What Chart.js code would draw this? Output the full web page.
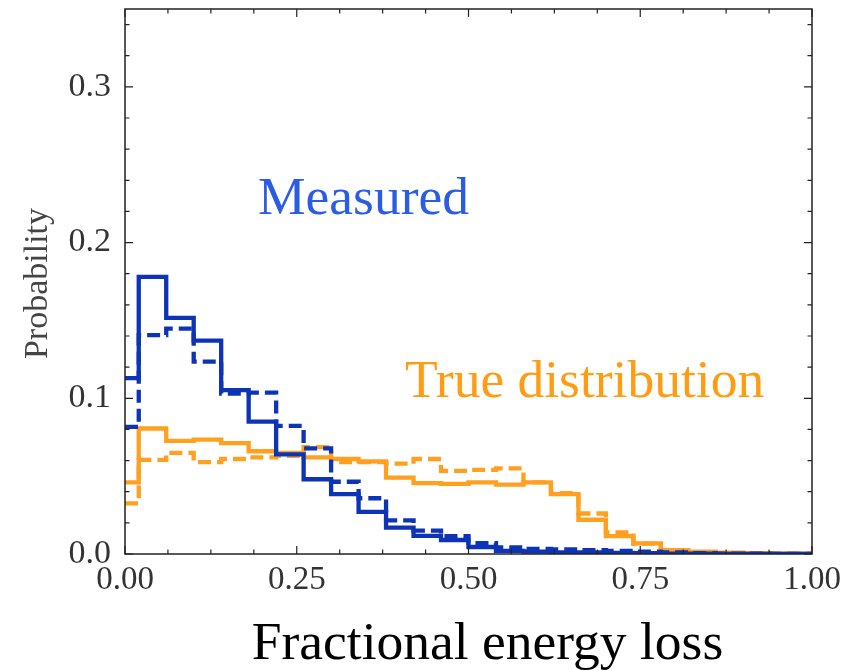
<!DOCTYPE html>
<html>
<head>
<meta charset="utf-8">
<script src="https://cdn.jsdelivr.net/npm/chart.js@4.4.1/dist/chart.umd.min.js"></script>
<style>
html,body{margin:0;padding:0;background:#fff;}
#wrap{width:848px;height:671px;position:relative;}
</style>
</head>
<body>
<div id="wrap"><canvas id="c" width="848" height="671"></canvas></div>
<script>
// Bin left edges (bins of width 0.04 centred on multiples of 0.04, clipped to [0,1])
const binEdges = [0, 0.02, 0.06, 0.10, 0.14, 0.18, 0.22, 0.26, 0.30, 0.34, 0.38, 0.42, 0.46, 0.50,
                  0.54, 0.58, 0.62, 0.66, 0.70, 0.74, 0.78, 0.82, 0.86, 0.90, 0.94, 0.98, 1.00];

const measuredSolid  = [0.113, 0.178, 0.1517, 0.137, 0.1053, 0.085, 0.064, 0.048, 0.0385, 0.027, 0.017, 0.0117, 0.009,
                        0.0045, 0.002, 0.0015, 0.001, 0.001, 0.0007, 0.0005, 0.0003, 0.0002, 0.0001, 0.0001, 0, 0];
const measuredDashed = [0.0816, 0.1406, 0.1447, 0.1235, 0.103, 0.1036, 0.0823, 0.0678, 0.0464, 0.0358, 0.0216, 0.015, 0.0115,
                        0.007, 0.0043, 0.0032, 0.003, 0.0025, 0.002, 0.0015, 0.001, 0.0005, 0.0003, 0.0002, 0.0001, 0.0001];
const trueSolid      = [0.046, 0.0806, 0.0726, 0.0735, 0.0712, 0.066, 0.065, 0.062, 0.061, 0.0595, 0.049, 0.0455, 0.045,
                        0.046, 0.0445, 0.046, 0.0385, 0.022, 0.0115, 0.0068, 0.0025, 0.0015, 0.0008, 0.0005, 0.0003, 0.0002];
const trueDashed     = [0.0325, 0.0605, 0.065, 0.059, 0.061, 0.062, 0.063, 0.0686, 0.059, 0.059, 0.058, 0.061, 0.0534,
                        0.054, 0.055, 0.046, 0.039, 0.026, 0.0138, 0.0066, 0.0025, 0.0012, 0.0006, 0.0004, 0.0002, 0.0001];

const xTicks = [0, 0.25, 0.5, 0.75, 1.0];
const yTicks = [0, 0.1, 0.2, 0.3];
const xMinorStep = 0.0625;
const yMinorStep = 0.02;

const xTitle = 'Fractional energy loss';
const yTitle = 'Probability';

// text labels placed in data coordinates (left edge, baseline)
const annotations = [
  {text: 'Measured', x: 0.1936, y: 0.2184, color: '#2a5de3'},
  {text: 'True distribution', x: 0.4076, y: 0.1008, color: '#ff9c12'}
];

const BLUE = '#0d33b6';
const ORANGE = '#ffa020';

function toPoints(vals) {
  return binEdges.map((x, i) => ({x: x, y: vals[Math.min(i, vals.length - 1)]}));
}

function ds(vals, color, dashed) {
  return {
    data: toPoints(vals),
    borderColor: color,
    borderWidth: 4.3,
    borderDash: dashed ? [13, 6] : [],
    stepped: 'before',
    pointRadius: 0,
    fill: false,
    borderCapStyle: 'butt',
    borderJoinStyle: 'miter'
  };
}

const framePlugin = {
  id: 'frame',
  afterDraw(chart) {
    const {ctx, chartArea: a, scales} = chart;
    const xs = scales.x, ys = scales.y;
    ctx.save();
    ctx.strokeStyle = '#222';
    ctx.lineWidth = 1.5;
    ctx.strokeRect(a.left, a.top, a.right - a.left, a.bottom - a.top);
    ctx.lineWidth = 1.2;
    ctx.beginPath();
    for (let v = 0; v <= 1.0001; v += xMinorStep) {
      const px = xs.getPixelForValue(v);
      const isMajor = xTicks.some(t => Math.abs(t - v) < 1e-6);
      const len = isMajor ? 8 : 4.5;
      ctx.moveTo(px, a.bottom); ctx.lineTo(px, a.bottom - len);
      ctx.moveTo(px, a.top); ctx.lineTo(px, a.top + len);
    }
    for (let v = 0; v <= 0.35001; v += yMinorStep) {
      const py = ys.getPixelForValue(v);
      const isMajor = yTicks.some(t => Math.abs(t - v) < 1e-6);
      const len = isMajor ? 8 : 4.5;
      ctx.moveTo(a.left, py); ctx.lineTo(a.left + len, py);
      ctx.moveTo(a.right, py); ctx.lineTo(a.right - len, py);
    }
    ctx.stroke();
    // annotations
    ctx.textAlign = 'left';
    ctx.textBaseline = 'alphabetic';
    ctx.font = '53.5px "Liberation Serif"';
    annotations.forEach(an => {
      ctx.fillStyle = an.color;
      ctx.fillText(an.text, xs.getPixelForValue(an.x), ys.getPixelForValue(an.y));
    });
    // axis titles
    ctx.fillStyle = '#000';
    ctx.textAlign = 'center';
    ctx.font = '53.5px "Liberation Serif"';
    ctx.fillText(xTitle, (a.left + a.right) / 2 + 19, 659);
    ctx.save();
    ctx.translate(47, (a.top + a.bottom) / 2 + 2);
    ctx.rotate(-Math.PI / 2);
    ctx.fillStyle = '#444';
    ctx.font = '34px "Liberation Serif"';
    ctx.fillText(yTitle, 0, 0);
    ctx.restore();
    ctx.restore();
  }
};

new Chart(document.getElementById('c'), {
  type: 'line',
  data: {
    datasets: [
      ds(measuredDashed, BLUE, true),
      ds(measuredSolid, BLUE, false),
      ds(trueDashed, ORANGE, true),
      ds(trueSolid, ORANGE, false)
    ]
  },
  options: {
    responsive: false,
    animation: false,
    layout: {padding: {top: 9, right: 36, left: 0, bottom: 0}},
    plugins: {legend: {display: false}, tooltip: {enabled: false}},
    scales: {
      x: {
        type: 'linear', min: 0, max: 1,
        grid: {display: false, drawTicks: false},
        border: {display: false},
        afterBuildTicks(s) { s.ticks = xTicks.map(v => ({value: v})); },
        afterFit(s) { s.height = 117; s.paddingLeft = 0; s.paddingRight = 0; },
        ticks: {
          padding: 7,
          color: '#333',
          font: {family: '"Liberation Serif"', size: 33},
          callback: v => Number(v).toFixed(2),
          maxRotation: 0
        }
      },
      y: {
        type: 'linear', min: 0, max: 0.35,
        grid: {display: false, drawTicks: false},
        border: {display: false},
        afterBuildTicks(s) { s.ticks = yTicks.map(v => ({value: v})); },
        afterFit(s) { s.width = 125; s.paddingTop = 0; s.paddingBottom = 0; },
        ticks: {
          padding: 14,
          color: '#333',
          font: {family: '"Liberation Serif"', size: 34},
          callback: v => Number(v).toFixed(1)
        }
      }
    }
  },
  plugins: [framePlugin]
});
</script>
</body>
</html>
